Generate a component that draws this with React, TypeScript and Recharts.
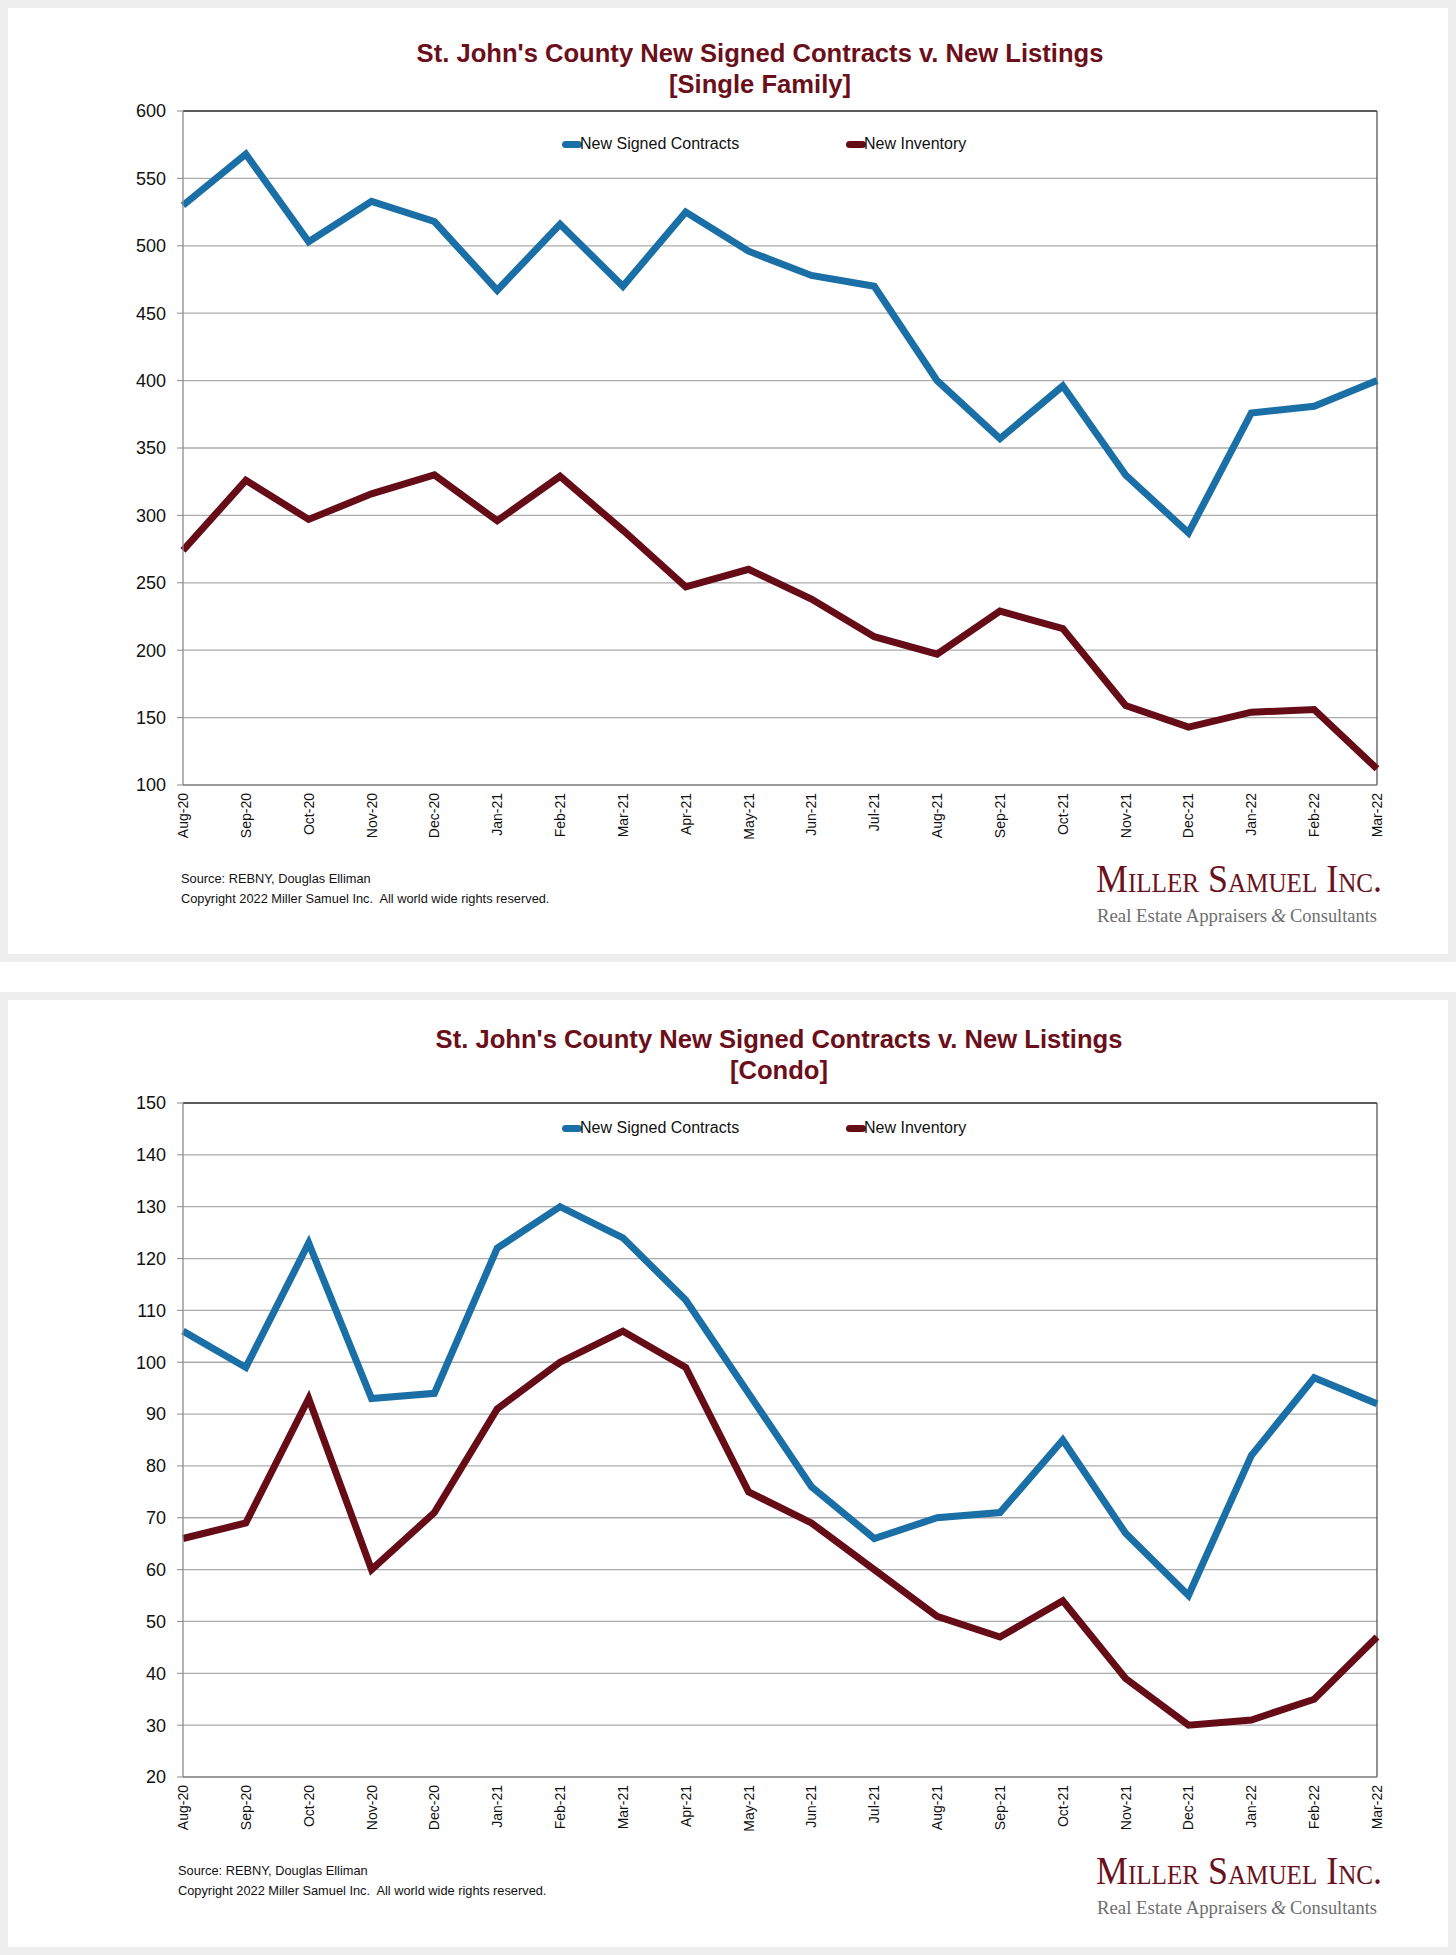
import React from 'react';
import { LineChart, Line, XAxis, YAxis, CartesianGrid, Legend, ReferenceLine } from 'recharts';

// months shown on the category axis
const months = [
  'Aug-20', 'Sep-20', 'Oct-20', 'Nov-20', 'Dec-20', 'Jan-21', 'Feb-21', 'Mar-21', 'Apr-21', 'May-21',
  'Jun-21', 'Jul-21', 'Aug-21', 'Sep-21', 'Oct-21', 'Nov-21', 'Dec-21', 'Jan-22', 'Feb-22', 'Mar-22'
];

// Single family
const sfContracts = [530, 568, 503, 533, 518, 467, 516, 470, 525, 496, 478, 470, 400, 357, 396, 330, 287, 376, 381, 400];
const sfInventory = [274, 326, 297, 316, 330, 296, 329, 289, 247, 260, 238, 210, 197, 229, 216, 159, 143, 154, 156, 112];
const sfTicks = [100, 150, 200, 250, 300, 350, 400, 450, 500, 550, 600];

// Condo
const condoContracts = [106, 99, 123, 93, 94, 122, 130, 124, 112, 94, 76, 66, 70, 71, 85, 67, 55, 82, 97, 92];
const condoInventory = [66, 69, 93, 60, 71, 91, 100, 106, 99, 75, 69, 60, 51, 47, 54, 39, 30, 31, 35, 47];
const condoTicks = [20, 30, 40, 50, 60, 70, 80, 90, 100, 110, 120, 130, 140, 150];

const seriesNames = ['New Signed Contracts', 'New Inventory'];

const BLUE = '#1a6fa6';
const MAROON = '#650c17';
const TITLE_RED = '#6b0f1a';
const FONT = '"Liberation Sans", Arial, Helvetica, sans-serif';
const SERIF = '"Liberation Serif", "Times New Roman", serif';

const buildRows = (contracts: number[], inventory: number[]) =>
  months.map((m, i) => ({ month: m, contracts: contracts[i], inventory: inventory[i] }));

const MonthTick = (props: any) => {
  const { x, y, payload } = props;
  return (
    <text
      transform={`translate(${x},${y}) rotate(-90)`}
      textAnchor="end"
      dominantBaseline="central"
      fontSize={14}
      fontFamily={FONT}
      fill="#111"
    >
      {payload.value}
    </text>
  );
};

const LegendContent = () => {
  const colors = [BLUE, MAROON];
  return (
    <div style={{ display: 'flex', fontFamily: FONT, fontSize: 16, lineHeight: '20px', color: '#111' }}>
      {seriesNames.map((name, i) => (
        <div key={name} style={{ display: 'flex', alignItems: 'center', width: i === 0 ? 284 : 'auto' }}>
          <span
            style={{
              display: 'inline-block',
              width: 20,
              height: 7,
              borderRadius: 4,
              background: colors[i],
              marginRight: -2
            }}
          />
          <span>{name}</span>
        </div>
      ))}
    </div>
  );
};

type PanelProps = {
  top: number;
  height: number;
  subtitle: string;
  titleX: number;
  titleY: [number, number];
  legendTop: number;
  footerX: number;
  rows: any[];
  domain: [number, number];
  ticks: number[];
};

const Panel: React.FC<PanelProps> = ({ top, height, subtitle, titleX, titleY, legendTop, footerX, rows, domain, ticks }) => (
  <div style={{ position: 'absolute', left: 0, top, width: 1456, height }}>
    <div
      style={{
        position: 'absolute',
        inset: 0,
        border: '8px solid #eeeeee',
        boxSizing: 'border-box',
        background: '#fff'
      }}
    />
    <div style={{ position: 'absolute', left: 0, top: 0 }}>
      <LineChart width={1456} height={860} data={rows} margin={{ top: 111, right: 79, bottom: 15, left: 0 }}>
        <CartesianGrid vertical={false} stroke="#ababab" strokeWidth={1.3} />
        <XAxis
          dataKey="month"
          scale="point"
          padding={{ left: 0, right: 0 }}
          interval={0}
          tickLine={false}
          tickSize={0}
          tickMargin={8}
          height={60}
          axisLine={{ stroke: '#8c8c8c', strokeWidth: 1.3 }}
          tick={<MonthTick />}
        />
        <YAxis
          type="number"
          domain={domain}
          ticks={ticks}
          interval={0}
          allowDataOverflow
          width={183}
          tickSize={6}
          tickMargin={11}
          axisLine={{ stroke: '#8c8c8c', strokeWidth: 1.3 }}
          tickLine={{ stroke: '#8c8c8c' }}
          tick={{ fontSize: 18, fill: '#111', fontFamily: FONT }}
        />
        <ReferenceLine y={domain[1]} stroke="#3c3c3c" strokeWidth={1.3} />
        <ReferenceLine x={months[months.length - 1]} stroke="#555" strokeWidth={1.3} />
        <Legend
          layout="horizontal"
          verticalAlign="middle"
          align="center"
          content={<LegendContent />}
          wrapperStyle={{ position: 'absolute', left: 562, top: legendTop, width: 600, height: 20 }}
        />
        <Line
          type="linear"
          dataKey="contracts"
          name={seriesNames[0]}
          stroke={BLUE}
          strokeWidth={7}
          dot={false}
          activeDot={false}
          isAnimationActive={false}
        />
        <Line
          type="linear"
          dataKey="inventory"
          name={seriesNames[1]}
          stroke={MAROON}
          strokeWidth={7}
          dot={false}
          activeDot={false}
          isAnimationActive={false}
        />
      </LineChart>
    </div>
    <svg
      width={1456}
      height={height}
      style={{ position: 'absolute', left: 0, top: 0, pointerEvents: 'none' }}
    >
      <text x={titleX} y={titleY[0]} textAnchor="middle" fontFamily={FONT} fontWeight="bold" fontSize={25.6} fill={TITLE_RED}>
        St. John's County New Signed Contracts v. New Listings
      </text>
      <text x={titleX} y={titleY[1]} textAnchor="middle" fontFamily={FONT} fontWeight="bold" fontSize={25.6} fill={TITLE_RED}>
        {subtitle}
      </text>
      <text x={footerX} y={883} fontFamily={FONT} fontSize={12.8} fill="#111">
        Source: REBNY, Douglas Elliman
      </text>
      <text x={footerX} y={903} fontFamily={FONT} fontSize={12.8} fill="#111" style={{ whiteSpace: 'pre' }}>
        Copyright 2022 Miller Samuel Inc.  All world wide rights reserved.
      </text>
      <text
        x={1096}
        y={892}
        fontFamily={SERIF}
        fontSize={40}
        fill="#6a1220"
        textLength={286}
        lengthAdjust="spacingAndGlyphs"
        style={{ fontVariant: 'small-caps' }}
      >
        Miller Samuel Inc.
      </text>
      <text x={1097} y={922} fontFamily={SERIF} fontSize={19.5} fill="#6e6e6e" textLength={170} lengthAdjust="spacingAndGlyphs">
        Real Estate Appraisers
      </text>
      <text x={1271} y={922} fontFamily={SERIF} fontSize={19.5} fontStyle="italic" fill="#6e6e6e">
        &amp;
      </text>
      <text x={1290} y={922} fontFamily={SERIF} fontSize={19.5} fill="#6e6e6e" textLength={87} lengthAdjust="spacingAndGlyphs">
        Consultants
      </text>
    </svg>
  </div>
);

const App: React.FC = () => (
  <div style={{ position: 'relative', width: 1456, height: 1955, background: '#fff' }}>
    <style>{`body { margin: 0; }`}</style>
    <Panel
      top={0}
      height={962}
      subtitle="[Single Family]"
      titleX={760}
      titleY={[62, 93]}
      legendTop={134}
      footerX={181}
      rows={buildRows(sfContracts, sfInventory)}
      domain={[100, 600]}
      ticks={sfTicks}
    />
    <Panel
      top={992}
      height={963}
      subtitle="[Condo]"
      titleX={779}
      titleY={[56, 87]}
      legendTop={126}
      footerX={178}
      rows={buildRows(condoContracts, condoInventory)}
      domain={[20, 150]}
      ticks={condoTicks}
    />
  </div>
);

export default App;
